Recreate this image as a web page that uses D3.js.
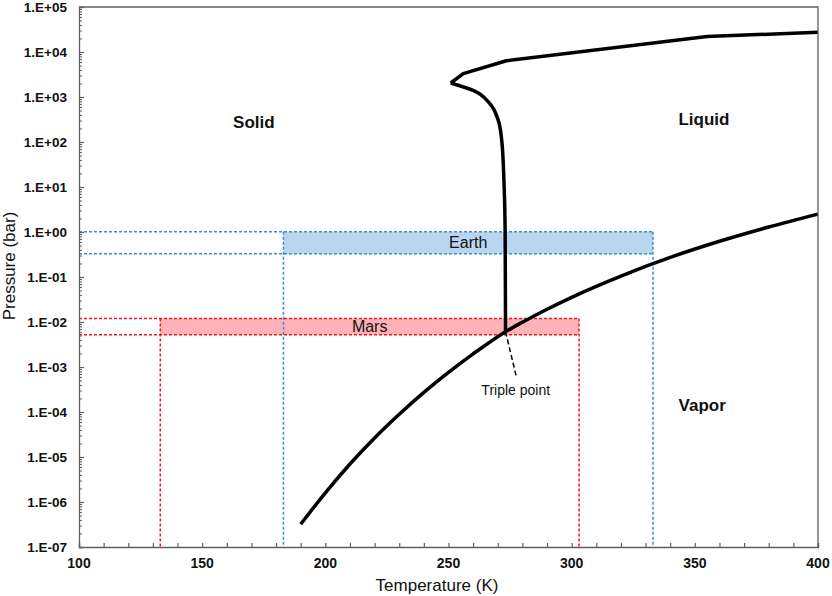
<!DOCTYPE html>
<html>
<head>
<meta charset="utf-8">
<script src="https://cdn.jsdelivr.net/npm/d3@7"></script>
<style>
  body { margin: 0; background: #fff; }
  svg text { font-family: 'Liberation Sans', Arial, sans-serif; }
</style>
</head>
<body>
<div id="chart"></div>
<script>
// Sublimation + vaporization curve (K, bar)
const vaporT = [190, 200, 210, 220, 230, 240, 250, 260, 273.16, 280, 290, 300, 320, 340, 360, 380, 400]
const vaporP = [3.2e-7, 1.6e-6, 7.0e-6, 2.65e-5, 8.9e-5, 2.73e-4, 7.6e-4, 1.96e-3, 6.1e-3,
  9.9e-3, 0.0192, 0.0354, 0.105, 0.272, 0.622, 1.29, 2.5]

// Melting curve, ice Ih branch (from the cusp down to the triple point)
const meltLowT = [250.9, 260, 266.8, 270.2, 271.6, 272.5, 273.0, 273.16]
const meltLowP = [2050, 1400, 710, 303, 109, 14, 1, 6.1e-3]

// Melting curve, high pressure ices (from the cusp to the right edge)
const meltHighT = [250.9, 256.0, 273.5, 355, 400]
const meltHighP = [2050, 3300, 6400, 22000, 27500]

// Surface ranges [Tmin, Tmax], [Pmin, Pmax]
const bands = [
  { name: 'Earth', T: [183, 333], P: [0.33, 1.013], fill: '#bad6ee', stroke: '#3d8cd6' },
  { name: 'Mars', T: [133, 303], P: [0.0052, 0.012], fill: '#ffb3b8', stroke: '#f5161b' },
]

const triplePoint = [273.16, 6.1e-3]
const tripleLabelAt = [277.7, 5.6e-4]

const regionNames = ['Solid', 'Liquid', 'Vapor']
const regionT = [171, 353.7, 353]
const regionP = [275, 330, 1.42e-4]

const xTicks = [100, 150, 200, 250, 300, 350, 400]
const yExponents = [5, 4, 3, 2, 1, 0, -1, -2, -3, -4, -5, -6, -7]
const yTickLabels = ['1.E+05', '1.E+04', '1.E+03', '1.E+02', '1.E+01', '1.E+00', '1.E-01',
  '1.E-02', '1.E-03', '1.E-04', '1.E-05', '1.E-06', '1.E-07']

const W = 832
const H = 596
const margin = { top: 7, right: 14, bottom: 49, left: 79 }
const width = W - margin.left - margin.right
const height = H - margin.top - margin.bottom
const axisColor = '#5f5f5f'

const svg = d3.select('#chart').append('svg')
  .attr('width', W).attr('height', H)
const g = svg.append('g')
  .attr('transform', `translate(${margin.left},${margin.top})`)

const x = d3.scaleLinear().domain([100, 400]).range([0, width])
const y = d3.scaleLog().domain([1e-7, 1e5]).range([height, 0])

// bands: fill first, then dashed guide lines
bands.forEach((b) => {
  g.append('rect')
    .attr('x', x(b.T[0]))
    .attr('y', y(b.P[1]))
    .attr('width', x(b.T[1]) - x(b.T[0]))
    .attr('height', y(b.P[0]) - y(b.P[1]))
    .attr('fill', b.fill)
})

bands.forEach((b) => {
  const dash = (x1, y1, x2, y2) => g.append('line')
    .attr('x1', x1).attr('y1', y1).attr('x2', x2).attr('y2', y2)
    .attr('stroke', b.stroke).attr('stroke-width', 1.5)
    .attr('stroke-dasharray', '3,2')
  dash(0, y(b.P[1]), x(b.T[1]), y(b.P[1]))
  dash(0, y(b.P[0]), x(b.T[1]), y(b.P[0]))
  dash(x(b.T[0]), y(b.P[1]), x(b.T[0]), height)
  dash(x(b.T[1]), y(b.P[1]), x(b.T[1]), height)
  g.append('text')
    .attr('x', x(d3.mean(b.T)))
    .attr('y', y(Math.sqrt(b.P[0] * b.P[1])))
    .attr('dy', '0.36em')
    .attr('text-anchor', 'middle')
    .attr('font-size', 16)
    .attr('fill', '#111')
    .text(b.name)
})

// phase boundaries
const pts = (T, P) => T.map((t, i) => [x(t), y(P[i])])
const curve = (data, c) => g.append('path')
  .attr('d', d3.line().curve(c)(data))
  .attr('fill', 'none')
  .attr('stroke', '#000')
  .attr('stroke-width', 3.5)
  .attr('stroke-linejoin', 'round')

curve(pts(vaporT, vaporP), d3.curveMonotoneX)
curve(pts(meltLowT, meltLowP), d3.curveMonotoneY)
curve(pts(meltHighT, meltHighP), d3.curveLinear)

// triple point annotation
g.append('line')
  .attr('x1', x(triplePoint[0])).attr('y1', y(triplePoint[1]))
  .attr('x2', x(tripleLabelAt[0])).attr('y2', y(tripleLabelAt[1]))
  .attr('stroke', '#000').attr('stroke-width', 1.5)
  .attr('stroke-dasharray', '5,3')
g.append('text')
  .attr('x', x(tripleLabelAt[0]) - 1)
  .attr('y', y(tripleLabelAt[1]) + 17)
  .attr('text-anchor', 'middle')
  .attr('font-size', 14)
  .attr('fill', '#111')
  .text('Triple point')

// region names
g.selectAll('.region')
  .data(regionNames)
  .enter()
  .append('text')
  .attr('class', 'region')
  .attr('x', (d, i) => x(regionT[i]))
  .attr('y', (d, i) => y(regionP[i]))
  .attr('dy', '0.36em')
  .attr('text-anchor', 'middle')
  .attr('font-size', 17)
  .attr('font-weight', 'bold')
  .attr('fill', '#111')
  .text((d) => d)

// plot frame (top and right)
g.append('path')
  .attr('d', `M0,0H${width}V${height}`)
  .attr('fill', 'none')
  .attr('stroke', axisColor)
  .attr('stroke-width', 1.3)

// x axis, ticks pointing inward
const xAxis = g.append('g')
  .attr('transform', `translate(0,${height})`)
  .call(d3.axisBottom(x).tickValues(d3.range(100, 401, 10)).tickSize(-4).tickFormat(''))
xAxis.select('.domain').attr('stroke', axisColor).attr('stroke-width', 1.3)
xAxis.selectAll('.tick line').attr('stroke', axisColor).attr('stroke-width', 1.2)
g.selectAll('.xlab')
  .data(xTicks)
  .enter()
  .append('text')
  .attr('class', 'xlab')
  .attr('x', (d) => x(d))
  .attr('y', height + 21)
  .attr('text-anchor', 'middle')
  .attr('font-size', 14)
  .attr('font-weight', 'bold')
  .attr('fill', '#111')
  .text((d) => d)

// y axis, log minor ticks pointing inward
const minorY = []
for (let e = -7; e < 5; e++) {
  for (let m = 2; m <= 9; m++) minorY.push(m * Math.pow(10, e))
}
const yAxis = g.append('g')
  .call(d3.axisLeft(y).tickValues(minorY).tickSize(-3).tickFormat(''))
yAxis.select('.domain').attr('stroke', axisColor).attr('stroke-width', 1.3)
yAxis.selectAll('.tick line').attr('stroke', axisColor).attr('stroke-width', 1)
const yMajor = g.append('g')
  .call(d3.axisLeft(y).tickValues(yExponents.map((e) => Math.pow(10, e))).tickSize(-5)
    .tickFormat((d, i) => yTickLabels[i]))
yMajor.select('.domain').remove()
yMajor.selectAll('.tick line').attr('stroke', axisColor).attr('stroke-width', 1.2)
yMajor.selectAll('.tick text')
  .attr('x', -12)
  .attr('font-size', 13.5)
  .attr('font-weight', 'bold')
  .attr('fill', '#111')
  .style('font-family', "'Liberation Sans', Arial, sans-serif")

// axis titles
svg.append('text')
  .attr('x', 437)
  .attr('y', 591)
  .attr('text-anchor', 'middle')
  .attr('font-size', 17)
  .attr('fill', '#111')
  .text('Temperature (K)')
svg.append('text')
  .attr('transform', 'translate(15,266) rotate(-90)')
  .attr('text-anchor', 'middle')
  .attr('font-size', 17)
  .attr('fill', '#111')
  .text('Pressure (bar)')
</script>
</body>
</html>
